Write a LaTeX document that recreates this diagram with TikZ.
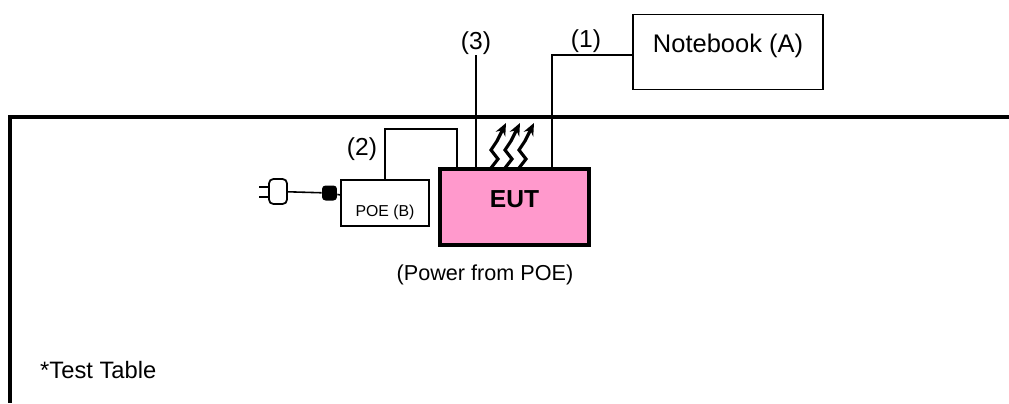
\documentclass[tikz,border=0pt]{standalone}
\usepackage{fontspec}
\usetikzlibrary{arrows.meta}
\setmainfont{Liberation Sans}
\definecolor{eutpink}{HTML}{FF99CC}

\begin{document}
\begin{tikzpicture}[x=0.02cm, y=-0.02cm]
\tikzset{boite/.style={draw, rectangle, inner sep=0pt, line width=0.9pt},
  cable/.style={line width=0.9pt},
  chaleur/.style={line width=1.8pt, -{Stealth[length=7pt, width=6pt]}},
  etiq/.style={anchor=base, font=\fontsize{14}{16}\selectfont}}
\useasboundingbox (0,0) rectangle (1009,403);
% test table
\draw[line width=2.1pt] (1009,117) -- (10,117) -- (10,403);
\node[anchor=base west, font=\fontsize{13.5}{16}\selectfont] (TT) at (34,378) {*Test Table};
% devices
\node[boite, line width=2.2pt, fill=eutpink, minimum width=2.98cm, text height=0.76cm, text depth=0.76cm,
  font=\bfseries\fontsize{14}{16}\selectfont] (EUT) at (514.5,207) {EUT};
\node[boite, minimum width=1.76cm, text height=0.72cm, text depth=0.2cm,
  font=\fontsize{9}{11}\selectfont] (POE) at (385,203) {POE (B)};
\node[boite, line width=1.1pt, minimum width=3.8cm, text height=0.76cm, text depth=0.74cm,
  font=\fontsize{14.5}{17}\selectfont] (NB) at (728,52) {Notebook (A)};
\node[anchor=base, font=\fontsize{12.3}{15}\selectfont] (PW) at (485,280) {(Power from POE)};
% plug
\node[draw, rounded corners=2.5pt, line width=1pt, minimum width=0.36cm, minimum height=0.5cm, inner sep=0pt] (plug) at (278,191.5) {};
\node[fill=black, rounded corners=2pt, minimum size=0.3cm, inner sep=0pt] (blk) at (329.5,193) {};
\draw[line width=1pt] (plug.west |- 0,187) -- ++(-9,0);
\draw[line width=1pt] (plug.west |- 0,197) -- ++(-9,0);
\draw[cable] (plug) -- (blk) -- (POE);
% cables
\coordinate (c2) at (457,129);
\coordinate (c3) at (476,55);
\coordinate (c1) at (552,55);
\draw[cable] (POE.north) |- (c2) -- (c2 |- EUT.north);
\draw[cable] (c3) -- (c3 |- EUT.north);
\draw[cable] (c1 |- EUT.north) -- (c1) -- (c1 -| NB.west);
\node[etiq] (L2) at (362,155) {(2)};
\node[etiq] (L3) at (476,49) {(3)};
\node[etiq] (L1) at (586,47) {(1)};
% heat
\foreach \dx in {0,14,28}
  \draw[chaleur] (491+\dx,168) -- (498+\dx,159) -- (491+\dx,150) -- (497+\dx,141) -- (506+\dx,123);
\end{tikzpicture}
\end{document}
